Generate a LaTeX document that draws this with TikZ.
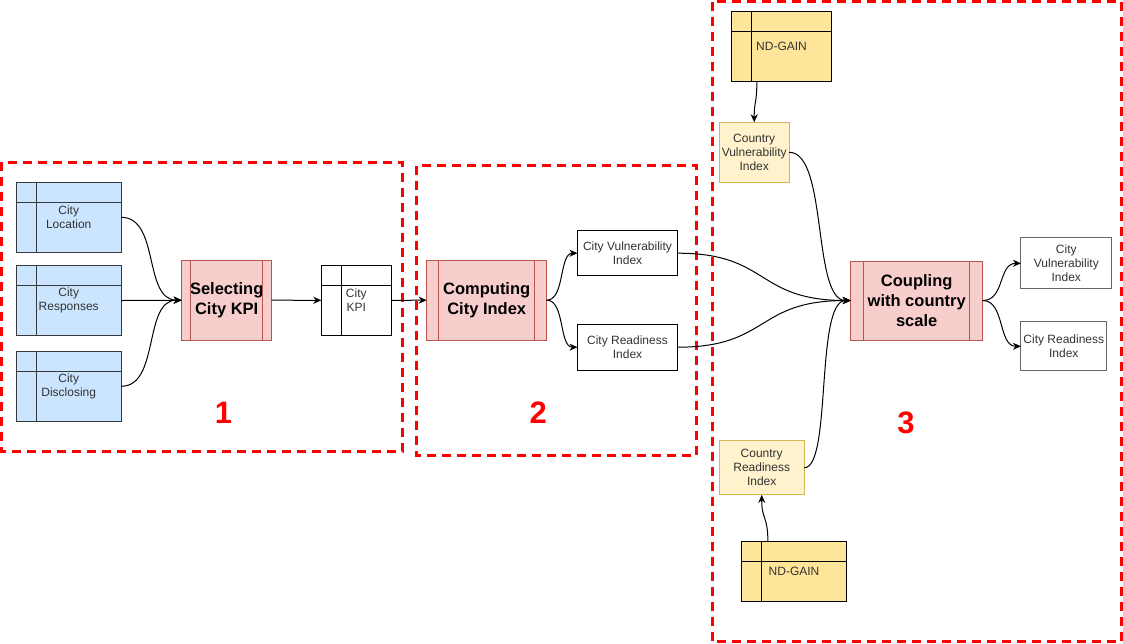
\documentclass[tikz,border=0pt]{standalone}
\usepackage{fontspec}
\setmainfont{Liberation Sans}
\usetikzlibrary{arrows.meta,calc}
\definecolor{tblue}{HTML}{CCE5FF}
\definecolor{tbluedraw}{HTML}{36393D}
\definecolor{pinkf}{HTML}{F8CECC}
\definecolor{pinkd}{HTML}{B85450}
\definecolor{ylwf}{HTML}{FFF2CC}
\definecolor{ylwd}{HTML}{D6B656}
\definecolor{goldf}{HTML}{FFE599}
\definecolor{txt}{HTML}{333333}
\definecolor{graydraw}{HTML}{666666}
\newcommand\proclines[2]{\draw[pinkd,line width=1pt] ($(#1.north west)+(#2,0)$) -- ($(#1.south west)+(#2,0)$) ($(#1.north east)+(-#2,0)$) -- ($(#1.south east)+(-#2,0)$);}
\newcommand\tbllines[2]{\draw[#2,line width=1pt] ($(#1.north west)+(20,0)$) -- ($(#1.south west)+(20,0)$) ($(#1.north west)+(0,20)$) -- ($(#1.north east)+(0,20)$);}
\begin{document}
\begin{tikzpicture}[x=1pt,y=-1pt,
  base/.style={draw, rectangle, inner sep=0pt, outer sep=0pt, line width=1pt, align=center, font=\fontsize{12}{14}\selectfont, text=txt},
  tablebox/.style={base, fill=tblue, draw=tbluedraw},
  goldbox/.style={base, fill=goldf, draw=black},
  kpibox/.style={base, fill=white, draw=black},
  procbox/.style={base, fill=pinkf, draw=pinkd, font=\fontsize{16.5}{20}\selectfont\bfseries, text=black},
  plainbox/.style={base, fill=white, draw=black},
  outbox/.style={base, fill=white, draw=graydraw},
  ctrybox/.style={base, fill=ylwf, draw=ylwd},
  region/.style={draw=red, line width=3pt, dash pattern=on 9pt off 6pt},
  numlbl/.style={text=red, font=\fontsize{31}{31}\selectfont\bfseries, inner sep=0pt},
  conn/.style={line width=1pt, -{Stealth[length=8pt,width=7pt,inset=2.5pt]}}
]
\useasboundingbox (0,0) rectangle (1123,643);
% regions
\draw[region] (1.5,162) rectangle (402,451.5);
\draw[region] (416.5,165.5) rectangle (696.5,455);
\draw[region] (712,1.5) rectangle (1121.5,641.5);
% region 1
\node[tablebox, minimum width=105pt, minimum height=70pt] (loc) at (68.7,217.3) {City\\Location};
\node[tablebox, minimum width=105pt, minimum height=70pt] (resp) at (68.7,300.5) {City\\Responses};
\node[tablebox, minimum width=105pt, minimum height=70pt] (disc) at (68.7,386.3) {City\\Disclosing};
\tbllines{loc}{tbluedraw}
\tbllines{resp}{tbluedraw}
\tbllines{disc}{tbluedraw}
\node[procbox, minimum width=90pt, minimum height=80pt] (sel) at (226.7,300.2) {Selecting\\City KPI};
\proclines{sel}{9}
\node[kpibox, minimum width=70pt, minimum height=70pt] (kpi) at (356.3,300.3) {City\\KPI};
\tbllines{kpi}{black}
\node[numlbl] (n1) at (223.5,412.5) {1};
% region 2
\node[procbox, minimum width=120pt, minimum height=80pt] (comp) at (486.7,300.2) {Computing\\City Index};
\proclines{comp}{12}
\node[plainbox, minimum width=100pt, minimum height=45pt] (cvi) at (627.5,253.2) {City Vulnerability\\Index};
\node[plainbox, minimum width=100pt, minimum height=46pt] (cri) at (627.5,347.2) {City Readiness\\Index};
\node[numlbl] (n2) at (538.3,413) {2};
% region 3
\node[goldbox, minimum width=100pt, minimum height=70pt] (ndg1) at (781.5,46.5) {ND-GAIN};
\tbllines{ndg1}{black}
\node[ctrybox, minimum width=70pt, minimum height=60pt] (covi) at (754.2,152.3) {Country\\Vulnerability\\Index};
\node[procbox, minimum width=132pt, minimum height=79pt] (coup) at (916.7,300.5) {Coupling\\with country\\scale};
\proclines{coup}{13.2}
\node[outbox, minimum width=90.7pt, minimum height=51pt] (ocvi) at (1066.3,263.3) {City\\Vulnerability\\Index};
\node[outbox, minimum width=85.7pt, minimum height=49pt] (ocri) at (1063.8,346.3) {City Readiness\\Index};
\node[ctrybox, minimum width=85pt, minimum height=54pt] (cori) at (761.7,467.8) {Country\\Readiness\\Index};
\node[goldbox, minimum width=105pt, minimum height=60pt] (ndg2) at (794,571.3) {ND-GAIN};
\tbllines{ndg2}{black}
\node[numlbl] (n3) at (906,422.7) {3};
% connectors
\draw[conn] (loc.east) .. controls (160,217.3) and (143,300) .. (sel.west);
\draw[conn] (resp.east) -- (sel.west);
\draw[conn] (disc.east) .. controls (160,386.3) and (143,300) .. (sel.west);
\draw[conn] (sel.east) -- (kpi.west);
\draw[conn] (kpi.east) -- (comp.west);
\draw[conn] (comp.east) .. controls (565,300) and (559,253.2) .. (cvi.west);
\draw[conn] (comp.east) .. controls (565,300) and (559,347.2) .. (cri.west);
\draw[conn] (cvi.east) .. controls (770,253.2) and (755,300.5) .. (coup.west);
\draw[conn] (cri.east) .. controls (770,347.2) and (755,300.5) .. (coup.west);
\draw[conn] (covi.east) .. controls (828,152.3) and (812,300.5) .. (coup.west);
\draw[conn] (cori.east) .. controls (832,467.8) and (815,300.5) .. (coup.west);
\draw[conn] (coup.east) .. controls (1005,300.5) and (998,263.3) .. (ocvi.west);
\draw[conn] (coup.east) .. controls (1005,300.5) and (998,346.3) .. (ocri.west);
\draw[conn] ($(ndg1.south west)+(25.4,0)$) .. controls (756.7,105) and (754.2,100) .. (covi.north);
\draw[conn] ($(ndg2.north west)+(26.4,0)$) .. controls (767.7,515) and (761.7,520) .. (cori.south);
\end{tikzpicture}
\end{document}
